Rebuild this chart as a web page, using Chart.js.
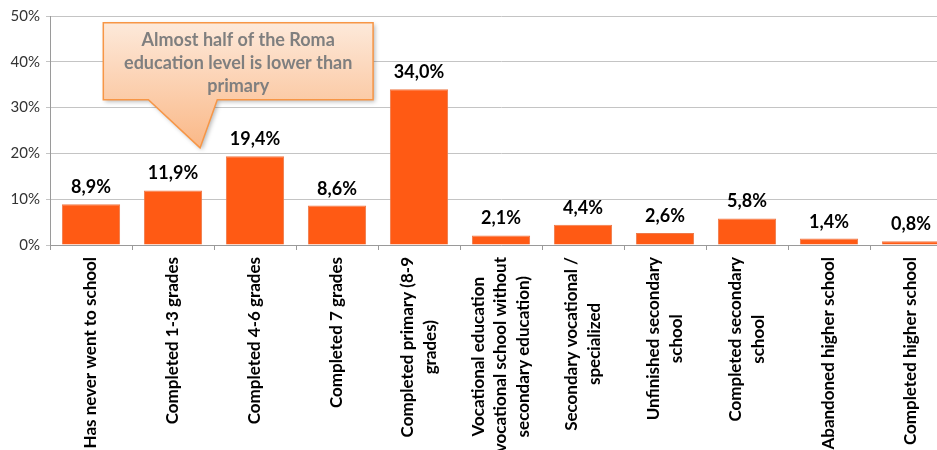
<!DOCTYPE html>
<html>
<head>
<meta charset="utf-8">
<script src="https://cdn.jsdelivr.net/npm/chart.js@4.4.0/dist/chart.umd.min.js"></script>
<style>
html, body { margin: 0; padding: 0; background: #fff; overflow: hidden; }
#wrap { width: 960px; height: 450px; }
</style>
</head>
<body>
<div id="wrap"><canvas id="eduChart" width="960" height="450"></canvas></div>
<script>
const categories = [
    ['Has never went to school'],
    ['Completed 1-3 grades'],
    ['Completed 4-6 grades'],
    ['Completed 7 grades'],
    ['Completed primary (8-9', 'grades)'],
    ['Vocational education', '(vocational school without', 'secondary education)'],
    ['Secondary vocational /', 'specialized'],
    ['Unfinished secondary', 'school'],
    ['Completed secondary', 'school'],
    ['Abandoned higher school'],
    ['Completed higher school']
];
const shares = [8.9, 11.9, 19.4, 8.6, 34.0, 2.1, 4.4, 2.6, 5.8, 1.4, 0.8];
const calloutText = ['Almost half of the Roma', 'education level is lower than', 'primary'];

// callout placement in axis units (category index / percent)
const callout = { left: 0.15, right: 3.44, top: 48.5, bottom: 31.7, baseL: 0.7, baseR: 1.54, tipX: 1.33, tipY: 21.2 };

function fmt(v) {
    return v.toFixed(1).replace('.', ',') + '%';
}

const labelPlugin = {
    id: 'labelPlugin',
    afterDatasetsDraw(chart) {
        const ctx = chart.ctx;
        const meta = chart.getDatasetMeta(0);
        ctx.save();
        ctx.font = 'bold 18px Lato';
        ctx.fillStyle = '#000';
        ctx.textAlign = 'center';
        ctx.textBaseline = 'alphabetic';
        meta.data.forEach(function (bar, i) {
            ctx.fillText(fmt(shares[i]), bar.x, bar.y - 11);
        });
        ctx.restore();
    },
    afterDraw(chart) {
        const ctx = chart.ctx;
        const xs = chart.scales.x;
        const ys = chart.scales.y;

        // category labels, rotated, lines centred on each other
        ctx.save();
        ctx.font = 'bold 17px Lato';
        ctx.fillStyle = '#000';
        ctx.textAlign = 'center';
        ctx.textBaseline = 'middle';
        const lh = 22.5;
        categories.forEach(function (lines, i) {
            const cx = xs.getPixelForValue(i);
            let w = 0;
            lines.forEach(l => { w = Math.max(w, ctx.measureText(l).width); });
            lines.forEach(function (l, j) {
                ctx.save();
                ctx.translate(cx + (j - (lines.length - 1) / 2) * lh, ys.bottom + 12 + w / 2);
                ctx.rotate(-Math.PI / 2);
                ctx.fillText(l, 0, 0);
                ctx.restore();
            });
        });
        ctx.restore();

        // callout box
        const x0 = xs.getPixelForValue(0);
        const step = xs.getPixelForValue(1) - x0;
        const px = v => x0 + v * step;
        const L = px(callout.left), R = px(callout.right);
        const T = ys.getPixelForValue(callout.top), B = ys.getPixelForValue(callout.bottom);

        ctx.save();
        ctx.beginPath();
        ctx.moveTo(L, T);
        ctx.lineTo(R, T);
        ctx.lineTo(R, B);
        ctx.lineTo(px(callout.baseR), B);
        ctx.lineTo(px(callout.tipX), ys.getPixelForValue(callout.tipY));
        ctx.lineTo(px(callout.baseL), B);
        ctx.lineTo(L, B);
        ctx.closePath();
        const grad = ctx.createLinearGradient(0, T, 0, ys.getPixelForValue(callout.tipY));
        grad.addColorStop(0, '#FDE9DA');
        grad.addColorStop(1, '#FAB887');
        ctx.fillStyle = grad;
        ctx.shadowColor = 'rgba(0,0,0,0.28)';
        ctx.shadowBlur = 4;
        ctx.shadowOffsetX = 2;
        ctx.shadowOffsetY = 2;
        ctx.fill();
        ctx.shadowColor = 'transparent';
        ctx.strokeStyle = '#F79646';
        ctx.lineWidth = 1.5;
        ctx.stroke();

        ctx.font = 'bold 18px Lato';
        ctx.fillStyle = '#7F7F7F';
        ctx.textAlign = 'center';
        ctx.textBaseline = 'middle';
        const mid = (T + B) / 2 + 2;
        calloutText.forEach(function (t, k) {
            ctx.fillText(t, (L + R) / 2, mid + (k - 1) * 23);
        });
        ctx.restore();
    }
};

var ctx = document.getElementById('eduChart').getContext('2d');
var eduChart = new Chart(ctx, {
    type: 'bar',
    data: {
        labels: categories,
        datasets: [{
            data: shares,
            backgroundColor: '#FF5A14',
            borderColor: '#EE7A4A',
            borderWidth: 1,
            barPercentage: 0.71,
            categoryPercentage: 1
        }]
    },
    options: {
        responsive: false,
        animation: false,
        devicePixelRatio: 1,
        layout: { padding: { top: 16, right: 8, left: 0, bottom: 0 } },
        plugins: {
            legend: { display: false },
            tooltip: { enabled: false }
        },
        scales: {
            x: {
                grid: { drawOnChartArea: false, tickLength: 5, color: '#9A9A9A' },
                border: { color: '#9A9A9A' },
                ticks: { display: false },
                afterFit: function (s) { s.height = 205; }
            },
            y: {
                min: 0,
                max: 50,
                ticks: {
                    stepSize: 10,
                    padding: 6,
                    color: '#333',
                    font: { family: 'Lato', size: 15 },
                    callback: v => v + '%'
                },
                grid: { color: '#C4C4C4', tickLength: 4 },
                border: { color: '#9A9A9A' },
                afterFit: function (s) { s.width = 50; }
            }
        }
    },
    plugins: [labelPlugin]
});
</script>
</body>
</html>
